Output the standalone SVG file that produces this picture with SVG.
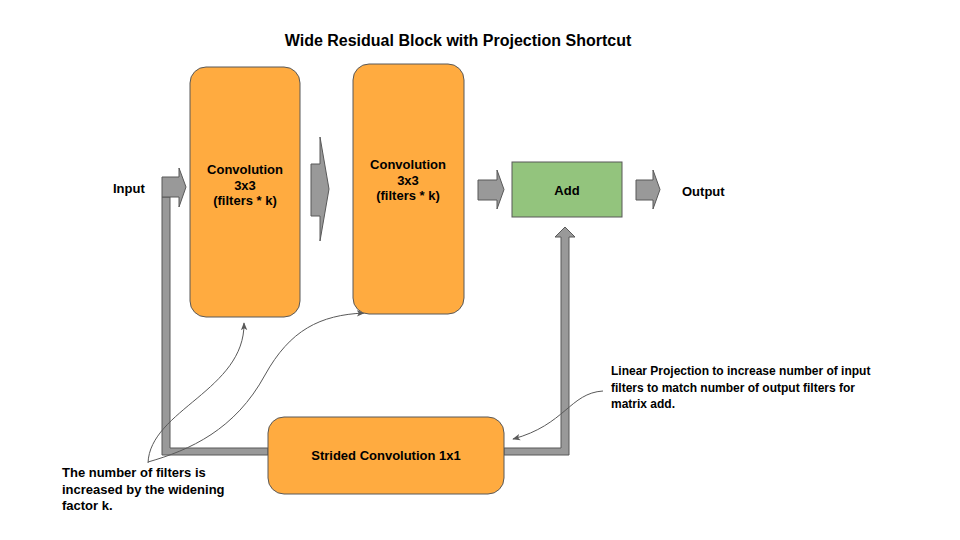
<svg xmlns="http://www.w3.org/2000/svg" width="960" height="540" viewBox="0 0 960 540">
<style>
text{font-family:"Liberation Sans",Arial,sans-serif;font-weight:bold;fill:#000;}
.t13{font-size:13px;}
.t12{font-size:12px;}
.c{text-anchor:middle;}
.box{fill:#ffab40;stroke:#595959;stroke-width:1;}
.add{fill:#93c47d;stroke:#595959;stroke-width:1;}
.pipe{fill:#999999;stroke:#595959;stroke-width:1;}
.note{fill:none;stroke:#595959;stroke-width:1;marker-end:url(#ah);}
</style>
<defs>
<marker id="ah" viewBox="0 0 10 10" refX="9" refY="5" markerWidth="8" markerHeight="8" markerUnits="userSpaceOnUse" orient="auto">
<path d="M0,1 L10,5 L0,9 L2.5,5 Z" fill="#595959"/>
</marker>
</defs>
<rect width="960" height="540" fill="#ffffff"/>
<text x="458" y="46" class="c" font-size="16px">Wide Residual Block with Projection Shortcut</text>
<g id="connectors">
<polygon class="pipe" points="162,197 162,455 268,455 268,448 170,448 170,197"/>
<polygon class="pipe" points="504,448 561,448 561,237 555,237 565,227 575,237 569,237 569,455 504,455"/>
<polygon class="pipe" points="162,177 179,177 179,168 186,187 179,207 179,197 162,197"/>
<polygon class="pipe" points="311,164 320,164 320,137 329,189 320,241 320,216 311,216"/>
<polygon class="pipe" points="478,180 497,180 497,170 504,189.5 497,209 497,200 478,200"/>
<polygon class="pipe" points="636,180 653,180 653,170 660,189.5 653,209 653,200 636,200"/>
<path class="note" d="M148,463 C150,410 245,390 244,323"/>
<path class="note" d="M148,462 C190,450 235,430 265,375 C290,330 320,315 364,313"/>
<path class="note" d="M603,391 C570,393 565,425 513,439"/>
</g>
<g id="input"><text x="113" y="193" class="t13">Input</text></g>
<g id="conv1">
<rect class="box" x="190" y="67" width="110" height="250" rx="16"/>
<text x="245" y="174" class="t13 c">Convolution</text>
<text x="245" y="190" class="t13 c">3x3</text>
<text x="245" y="205" class="t13 c">(filters * k)</text>
</g>
<g id="conv2">
<rect class="box" x="353" y="64" width="111" height="250" rx="16"/>
<text x="408" y="169" class="t13 c">Convolution</text>
<text x="408" y="185" class="t13 c">3x3</text>
<text x="408" y="200" class="t13 c">(filters * k)</text>
</g>
<g id="add">
<rect class="add" x="512" y="162" width="110" height="55"/>
<text x="567" y="195" class="t13 c">Add</text>
</g>
<g id="output"><text x="682" y="196" class="t13">Output</text></g>
<g id="strided">
<rect class="box" x="268" y="417" width="236" height="77" rx="16"/>
<text x="386" y="460" class="t13 c">Strided Convolution 1x1</text>
</g>
<g id="note-left">
<text x="62" y="477" class="t13">The number of filters is</text>
<text x="62" y="494" class="t13">increased by the widening</text>
<text x="62" y="510" class="t13">factor k.</text>
</g>
<g id="note-right">
<text x="611" y="375" class="t12">Linear Projection to increase number of input</text>
<text x="611" y="392" class="t12">filters to match number of output filters for</text>
<text x="611" y="408" class="t12">matrix add.</text>
</g>
</svg>
